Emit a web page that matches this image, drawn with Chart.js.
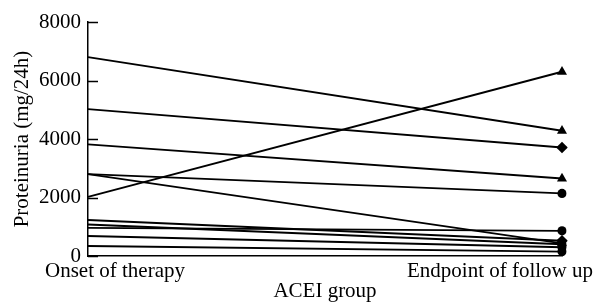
<!DOCTYPE html>
<html>
<head>
<meta charset="utf-8">
<script src="https://cdn.jsdelivr.net/npm/chart.js@4/dist/chart.umd.min.js"></script>
<style>
  html, body { margin: 0; padding: 0; background: #ffffff; }
  #c { display: block; }
</style>
</head>
<body>
<canvas id="c" width="594" height="304"></canvas>
<script>
// ---- data ----
const categories = ['Onset of therapy', 'Endpoint of follow up'];
const onsetValues    = [6800, 5020, 3815, 2800, 2800, 2020, 1230, 1075, 960, 685, 340];
const endpointValues = [4280, 3710, 2650, 2140, 430, 6300, 520, 400, 860, 300, 150];
const endMarkers = ['triangle', 'rectRot', 'triangle', 'circle', 'triangle', 'triangle',
                    'rectRot', 'circle', 'circle', 'circle', 'circle'];
const yTicks = [0, 2000, 4000, 6000, 8000];
const xTitle = 'ACEI group';
const yTitle = 'Proteinuria (mg/24h)';

const FONT = '"Liberation Serif", "Times New Roman", serif';
const FS = 21;

const datasets = onsetValues.map((v, i) => ({
  label: 'Patient ' + (i + 1),
  data: [v, endpointValues[i]],
  borderColor: '#000',
  backgroundColor: '#000',
  borderWidth: 1.9,
  tension: 0,
  fill: false,
  pointStyle: ['circle', endMarkers[i]],
  pointRadius: [0, endMarkers[i] === 'circle' ? 4.6 : 5.8],
  pointBorderWidth: 0,
  pointBackgroundColor: '#000',
  pointHoverRadius: 0
}));

// x category labels placed relative to their scale positions, plus inward y tick marks
const axisDecor = {
  id: 'axisDecor',
  afterDraw(chart) {
    const xs = chart.scales.x;
    const ys = chart.scales.y;
    const ctx = chart.ctx;
    const area = chart.chartArea;
    const shift = [27, -62];
    ctx.save();
    ctx.font = FS + 'px ' + FONT;
    ctx.fillStyle = '#000';
    ctx.textAlign = 'center';
    ctx.textBaseline = 'alphabetic';
    categories.forEach((c, i) => {
      ctx.fillText(c, xs.getPixelForValue(i) + shift[i], area.bottom + 21);
    });
    ctx.strokeStyle = '#000';
    ctx.lineWidth = 1.5;
    ctx.beginPath();
    yTicks.forEach(v => {
      const py = Math.round(ys.getPixelForValue(v)) + 0.5;
      ctx.moveTo(area.left, py);
      ctx.lineTo(area.left + 10, py);
    });
    ctx.stroke();
    ctx.restore();
  }
};

new Chart(document.getElementById('c'), {
  type: 'line',
  data: { labels: categories, datasets },
  options: {
    responsive: false,
    animation: false,
    events: [],
    layout: { padding: { top: 22, right: 32, left: 0, bottom: 0 } },
    plugins: { legend: { display: false }, tooltip: { enabled: false }, title: { display: false } },
    scales: {
      x: {
        type: 'category',
        offset: false,
        grid: { display: false, drawTicks: false },
        border: { display: true, color: '#000', width: 1.5 },
        ticks: { display: false },
        title: { display: true, text: xTitle, color: '#000', font: { family: FONT, size: FS }, padding: 0 },
        afterFit(scale) { scale.height = 48; scale.paddingLeft = 0; scale.paddingRight = 0; }
      },
      y: {
        min: 0,
        max: 8000,
        afterBuildTicks(scale) { scale.ticks = yTicks.map(v => ({ value: v })); },
        grid: { display: false, drawTicks: false },
        border: { display: true, color: '#000', width: 1.5 },
        ticks: { color: '#000', font: { family: FONT, size: FS }, padding: 7, callback: v => String(v) },
        title: { display: true, text: yTitle, color: '#000', font: { family: FONT, size: FS }, padding: { top: 10, bottom: 0 } },
        afterFit(scale) { scale.width = 88; scale.paddingTop = 0; scale.paddingBottom = 0; }
      }
    }
  },
  plugins: [axisDecor]
});
</script>
</body>
</html>
